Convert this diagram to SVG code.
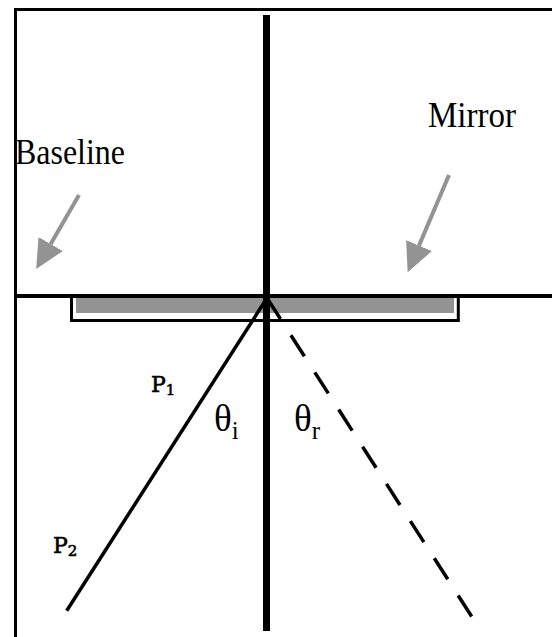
<svg xmlns="http://www.w3.org/2000/svg" width="552" height="637" viewBox="0 0 552 637">
  <style>
    .frame { stroke: #000; stroke-width: 3; fill: none; }
    .lbl { font-family: "Liberation Serif", "Times New Roman", serif; fill: #000; }
    .plbl { font-family: "DejaVu Serif", "Liberation Serif", serif; fill: #000; stroke: #000; stroke-width: 0.6; }
    .garrow { stroke: #939393; stroke-width: 4; fill: none; }
    .ray { stroke: #000; stroke-width: 3.5; fill: none; }
  </style>
  <defs>
    <marker id="gh" viewBox="0 0 29 28" refX="0" refY="14" markerWidth="29" markerHeight="28" markerUnits="userSpaceOnUse" orient="auto">
      <path d="M0,0 L29,14 L0,28 Z" fill="#939393"/>
    </marker>
  </defs>
  <rect width="552" height="637" fill="#fff"/>

  <g id="frame">
    <line class="frame" x1="14" y1="9.5" x2="552" y2="9.5"/>
    <line class="frame" x1="15.5" y1="8" x2="15.5" y2="637"/>
  </g>

  <g id="mirror">
    <rect x="71.5" y="296" width="386.8" height="24.5" fill="#fff" stroke="#000" stroke-width="3"/>
    <rect x="76" y="298" width="378" height="15" fill="#939393"/>
  </g>

  <g id="baseline">
    <line x1="14" y1="296" x2="552" y2="296" stroke="#000" stroke-width="4"/>
  </g>

  <g id="normal">
    <line x1="266.5" y1="15" x2="266.5" y2="631" stroke="#000" stroke-width="7"/>
  </g>

  <g id="connectors">
    <line class="garrow" x1="79" y1="195" x2="50.7" y2="244" marker-end="url(#gh)"/>
    <line class="garrow" x1="449" y1="175" x2="419" y2="245.6" marker-end="url(#gh)"/>
    <line id="incident-ray" class="ray" x1="66.7" y1="610.7" x2="267" y2="298"/>
    <line id="reflected-ray" class="ray" x1="267" y1="298" x2="472" y2="617" stroke-width="4" stroke-dasharray="25 19.2"/>
  </g>

  <g id="label-baseline">
    <text class="lbl" x="15" y="164" font-size="36" textLength="110" lengthAdjust="spacingAndGlyphs">Baseline</text>
  </g>
  <g id="label-mirror">
    <text class="lbl" x="428" y="127" font-size="36" textLength="88" lengthAdjust="spacingAndGlyphs">Mirror</text>
  </g>
  <g id="label-p1">
    <text class="plbl" x="151" y="392" font-size="22">P<tspan font-size="15" dy="3">1</tspan></text>
  </g>
  <g id="label-p2">
    <text class="plbl" x="53" y="553" font-size="22">P<tspan font-size="15" dy="3">2</tspan></text>
  </g>
  <g id="label-theta-i">
    <text class="lbl" x="214" y="431" font-size="37">θ<tspan font-size="25" dy="8">i</tspan></text>
  </g>
  <g id="label-theta-r">
    <text class="lbl" x="294" y="431" font-size="37">θ<tspan font-size="25" dy="8">r</tspan></text>
  </g>
</svg>
